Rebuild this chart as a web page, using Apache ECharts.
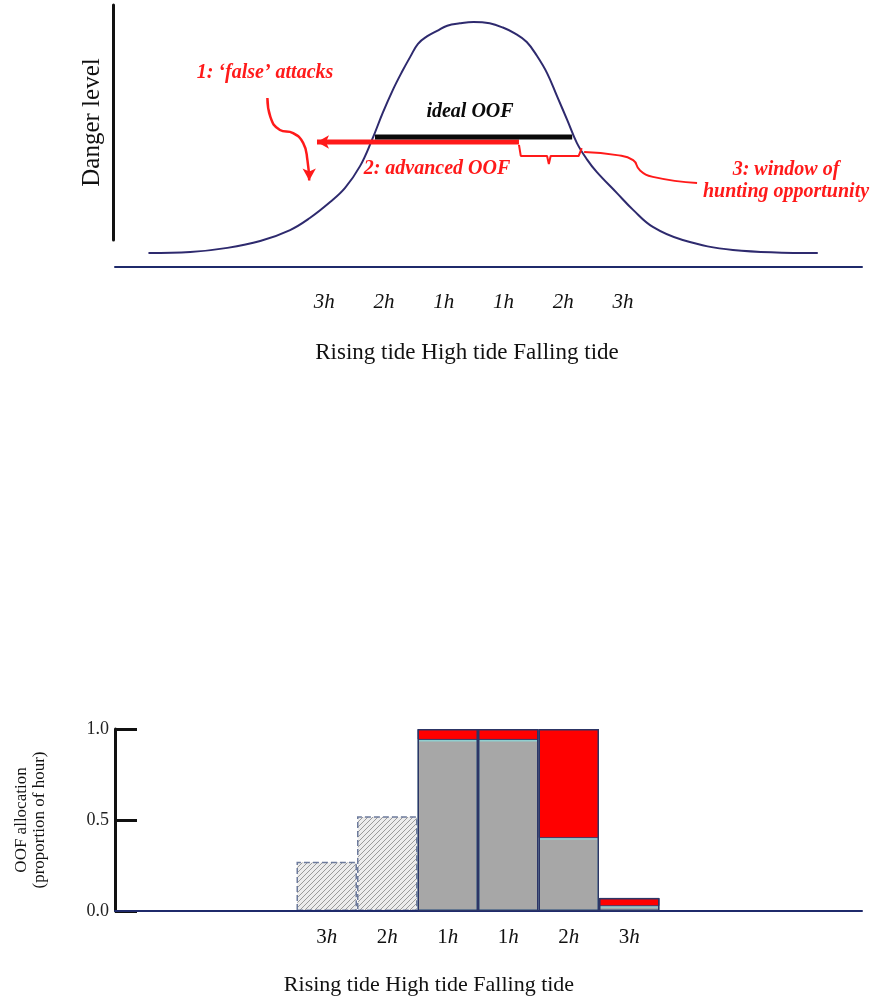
<!DOCTYPE html>
<html>
<head>
<meta charset="utf-8">
<script src="https://cdn.jsdelivr.net/npm/echarts@6/dist/echarts.min.js"></script>
<style>
  html, body { margin: 0; padding: 0; background: #fff; }
  #chart { width: 886px; height: 1002px; }
</style>
</head>
<body>
<div id="chart"></div>
<script>
// Top panel: danger level over the tide cycle (x = hours from high tide)
const dangerX = [-5.44, -4.74, -4.12, -3.57, -3.07, -2.74, -2.40, -2.15, -1.90, -1.70, -1.52, -1.35, -1.20, -1.06,
  -0.93, -0.78, -0.61, -0.44, -0.23, 0, 0.27, 0.49, 0.69, 0.89, 1.06, 1.23, 1.40, 1.57, 1.73, 1.90, 2.06, 2.40,
  2.67, 3.00, 3.50, 4.34, 5.76];
const dangerY = [5.3, 5.7, 7.3, 9.9, 14.1, 18.7, 24.8, 30.2, 38.5, 48.5, 58.8, 67.6, 74.4, 80.2,
  85.2, 88.0, 90.1, 92.1, 93.0, 93.5, 93.0, 91.4, 89.2, 85.9, 80.6, 74.0, 65.0, 56.0, 47.3, 41.0, 36.3, 28.2,
  21.8, 15.3, 10.3, 6.5, 5.3];
const topTickValues = [-2.5, -1.5, -0.5, 0.5, 1.5, 2.5];
const topTickLabels = ['3h', '2h', '1h', '1h', '2h', '3h'];

// annotation paths, in the same data units
const idealOOF = [[-1.65, 49.6], [1.65, 49.6]];
const advancedOOF = [[-2.62, 47.7], [0.76, 47.7]];
const windowBrace = [[0.76, 46.6], [0.79, 42.4], [1.23, 42.4], [1.26, 39.3], [1.29, 42.4], [1.76, 42.4], [1.81, 45.4]];
const windowPointer = [[1.85, 43.9], [2.40, 42.7], [2.67, 40.8], [2.78, 37.0], [3.00, 34.4], [3.74, 32.1]];
const falseAttackArrow = [[-3.45, 64.5], [-3.40, 57.3], [-3.24, 52.3], [-3.02, 51.1], [-2.85, 47.3], [-2.78, 40.8], [-2.75, 33.0]];

// Bottom panel: OOF allocation per hour
const hourCategories = ['', '', '', '3h', '2h', '1h', '1h', '2h', '3h', '', '', ''];
const risingAllocation = [null, null, null, 0.27, 0.52, null, null, null, null, null, null, null];
const foragingAllocation = [null, null, null, null, null, 0.94, 0.94, 0.40, 0.026, null, null, null];
const extraAllocation = [null, null, null, null, null, 0.06, 0.06, 0.60, 0.046, null, null, null];
const allocationTicks = [0, 0.5, 1];

const serif = "'Liberation Serif', 'DejaVu Serif', serif";
const navy = '#1f2a6b';
const red = '#ff1a1a';

// diagonal hatch for the rising-tide bars
function hatchPattern() {
  const c = document.createElement('canvas');
  c.width = 5;
  c.height = 5;
  const ctx = c.getContext('2d');
  ctx.fillStyle = '#ececec';
  ctx.fillRect(0, 0, 5, 5);
  ctx.strokeStyle = '#9a9a9a';
  ctx.lineWidth = 1;
  ctx.beginPath();
  ctx.moveTo(-1, 6); ctx.lineTo(6, -1);
  ctx.moveTo(-1, 1); ctx.lineTo(1, -1);
  ctx.moveTo(4, 6); ctx.lineTo(6, 4);
  ctx.stroke();
  return { image: c, repeat: 'repeat' };
}

function pathSeries(points, color, width, smooth, arrowRotate) {
  const data = points.map((p) => ({ value: p }));
  if (arrowRotate !== undefined) {
    const end = arrowRotate === 90 ? 0 : data.length - 1;
    data[end] = { value: points[end], symbol: 'arrow', symbolSize: [10, 12], symbolRotate: arrowRotate,
      itemStyle: { color } };
  }
  return {
    type: 'line',
    xAxisIndex: 0,
    yAxisIndex: 0,
    data,
    smooth,
    symbol: 'none',
    showSymbol: true,
    silent: true,
    clip: false,
    lineStyle: { color, width },
    z: 5
  };
}

const chart = echarts.init(document.getElementById('chart'), null, { renderer: 'canvas' });

chart.setOption({
  animation: false,
  backgroundColor: '#fff',
  grid: [
    { left: 115, right: 24, top: 5, bottom: 735 },
    { left: 113, width: 1, top: 5, bottom: 762 },
    { left: 115, right: 45, top: 729, bottom: 91 },
    { left: 115, right: 24, top: 900, bottom: 91 }
  ],
  xAxis: [
    {
      gridIndex: 0, type: 'value', min: -6, max: 6.5,
      axisLine: { lineStyle: { color: navy, width: 2 } },
      axisTick: { show: false },
      splitLine: { show: false },
      axisLabel: {
        customValues: topTickValues,
        formatter: (v) => topTickLabels[topTickValues.indexOf(v)] || '',
        fontFamily: serif, fontStyle: 'italic', fontSize: 21, color: '#111', margin: 25
      }
    },
    { gridIndex: 1, type: 'value', show: false },
    {
      gridIndex: 2, type: 'category', data: hourCategories,
      axisLine: { show: false },
      axisTick: { show: false },
      axisLabel: {
        interval: 0, margin: 16, color: '#111',
        formatter: (v) => (v ? '{n|' + v.slice(0, -1) + '}{i|h}' : ''),
        rich: {
          n: { fontFamily: serif, fontSize: 21, color: '#111' },
          i: { fontFamily: serif, fontSize: 21, fontStyle: 'italic', color: '#111' }
        }
      }
    },
    {
      gridIndex: 3, type: 'value', min: 0, max: 1, z: 4,
      axisLine: { lineStyle: { color: navy, width: 2 } },
      axisTick: { show: false },
      axisLabel: { show: false },
      splitLine: { show: false }
    }
  ],
  yAxis: [
    { gridIndex: 0, type: 'value', min: 0, max: 100, show: false },
    {
      gridIndex: 1, type: 'value', min: 0, max: 1,
      axisLine: { show: true, lineStyle: { color: '#111', width: 3 } },
      axisTick: { show: false },
      axisLabel: { show: false },
      splitLine: { show: false },
      name: 'Danger level', nameLocation: 'middle', nameGap: 8,
      nameTextStyle: { fontFamily: serif, fontSize: 25, color: '#111' }
    },
    {
      gridIndex: 2, type: 'value', min: 0, max: 1, interval: 0.5,
      axisLine: { show: true, lineStyle: { color: '#111', width: 3 } },
      axisTick: { show: true, inside: true, length: 22, lineStyle: { color: '#111', width: 3 } },
      splitLine: { show: false },
      axisLabel: {
        formatter: (v) => (allocationTicks.indexOf(v) >= 0 ? v.toFixed(1) : ''),
        fontFamily: serif, fontSize: 18, color: '#222', margin: 6
      },
      name: 'OOF allocation\n(proportion of hour)', nameLocation: 'middle', nameGap: 66,
      nameTextStyle: { fontFamily: serif, fontSize: 17, lineHeight: 18, color: '#111' }
    },
    { gridIndex: 3, type: 'value', show: false }
  ],
  series: [
    {
      type: 'line', xAxisIndex: 0, yAxisIndex: 0,
      data: dangerX.map((x, i) => [x, dangerY[i]]),
      smooth: 0.4, symbol: 'none', silent: true,
      lineStyle: { color: '#2e2a6e', width: 2 }, z: 3
    },
    pathSeries(advancedOOF, red, 5, false, 90),
    pathSeries(idealOOF, '#0a0a0a', 5, false),
    pathSeries(windowBrace, red, 2, false),
    pathSeries(windowPointer, red, 2, true),
    pathSeries(falseAttackArrow, red, 2.5, true, 180),
    {
      type: 'bar', xAxisIndex: 2, yAxisIndex: 2, stack: 'oof', data: risingAllocation,
      barCategoryGap: '0%', silent: true,
      itemStyle: { color: hatchPattern(), borderColor: '#6d7b9c', borderWidth: 1.5, borderType: 'dashed' }
    },
    {
      type: 'bar', xAxisIndex: 2, yAxisIndex: 2, stack: 'oof', data: foragingAllocation,
      barCategoryGap: '0%', silent: true,
      itemStyle: { color: '#a7a7a7', borderColor: '#8fcfd0', borderWidth: 1.5 }
    },
    {
      type: 'bar', xAxisIndex: 2, yAxisIndex: 2, stack: 'oof', data: extraAllocation,
      barCategoryGap: '0%', silent: true,
      itemStyle: { color: '#ff0000', borderColor: '#2c3566', borderWidth: 1 }
    },
    {
      // dark outline of each full hour block
      type: 'bar', xAxisIndex: 2, yAxisIndex: 2, barGap: '-100%',
      data: foragingAllocation.map((v, i) => (v === null ? null : v + extraAllocation[i])),
      barCategoryGap: '0%', silent: true, z: 4,
      itemStyle: { color: 'transparent', borderColor: '#2c3566', borderWidth: 1.5 }
    }
  ],
  graphic: [
    { type: 'text', x: 265, y: 73, style: { text: '1: \u2018false\u2019 attacks', fill: red, font: 'italic bold 20px ' + serif, align: 'center', verticalAlign: 'middle' } },
    { type: 'text', x: 470, y: 112, style: { text: 'ideal OOF', fill: '#0a0a0a', font: 'italic bold 20px ' + serif, align: 'center', verticalAlign: 'middle' } },
    { type: 'text', x: 437, y: 169, style: { text: '2: advanced OOF', fill: red, font: 'italic bold 20px ' + serif, align: 'center', verticalAlign: 'middle' } },
    { type: 'text', x: 786, y: 181, style: { text: '3: window of\nhunting opportunity', fill: red, font: 'italic bold 20px ' + serif, lineHeight: 22, align: 'center', verticalAlign: 'middle' } },
    { type: 'text', x: 467, y: 353, style: { text: 'Rising tide High tide Falling tide', fill: '#111', font: '23px ' + serif, align: 'center', verticalAlign: 'middle' } },
    { type: 'text', x: 429, y: 985, style: { text: 'Rising tide High tide Falling tide', fill: '#111', font: '22px ' + serif, align: 'center', verticalAlign: 'middle' } }
  ]
});

window.addEventListener('resize', () => {
  chart.resize();
});
</script>
</body>
</html>
